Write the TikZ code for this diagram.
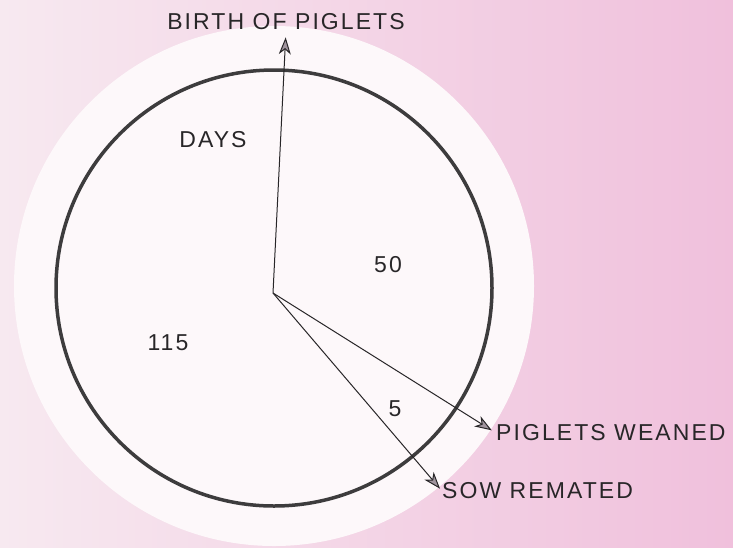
\documentclass[tikz,border=0pt]{standalone}
\usepackage{fontspec}
\newfontfamily\labelfont{Liberation Sans}[LetterSpace=9]
\usetikzlibrary{arrows.meta}
\definecolor{bgpink}{RGB}{240,192,220}
\definecolor{palepink}{RGB}{247,233,240}
\definecolor{halo}{RGB}{253,248,250}
\definecolor{tipgray}{RGB}{160,148,158}
\definecolor{ink}{RGB}{40,38,40}

\begin{document}
\begin{tikzpicture}[x=1pt, y=-1pt,
  lbl/.style={font=\labelfont\fontsize{23}{23}\selectfont, text=ink, inner sep=0pt},
  hand/.style={line width=1pt, draw=ink, -{Stealth[length=17pt, width=12pt, inset=5pt, fill=tipgray]}}]
  \useasboundingbox (0,0) rectangle (733,547);
  % background and pale disc
  \shade[left color=palepink, right color=bgpink] (0,0) rectangle (733,547);
  \fill[halo] (274,286) circle (260);

  \coordinate (c) at (273,293);
  \draw[line width=3.5pt, ink!90] (274,288) circle (218);

  \node[lbl] (birth) at (286,22) {BIRTH OF PIGLETS};
  \node[lbl, anchor=west] (weaned) at (496,433) {PIGLETS WEANED};
  \node[lbl, anchor=west] (remated) at (442,491) {SOW REMATED};
  \node[lbl] (days) at (213,140) {DAYS};
  \node[lbl] (fifty) at (388,265) {50};
  \node[lbl] (d115) at (168,343) {115};
  \node[lbl] (five) at (395,409) {5};

  \draw[hand, shorten >=7pt] (c) -- (birth.south);
  \draw[hand, shorten >=5pt] (c) -- (weaned.west);
  \draw[hand, shorten >=3pt] (c) -- (remated.west);
\end{tikzpicture}
\end{document}
